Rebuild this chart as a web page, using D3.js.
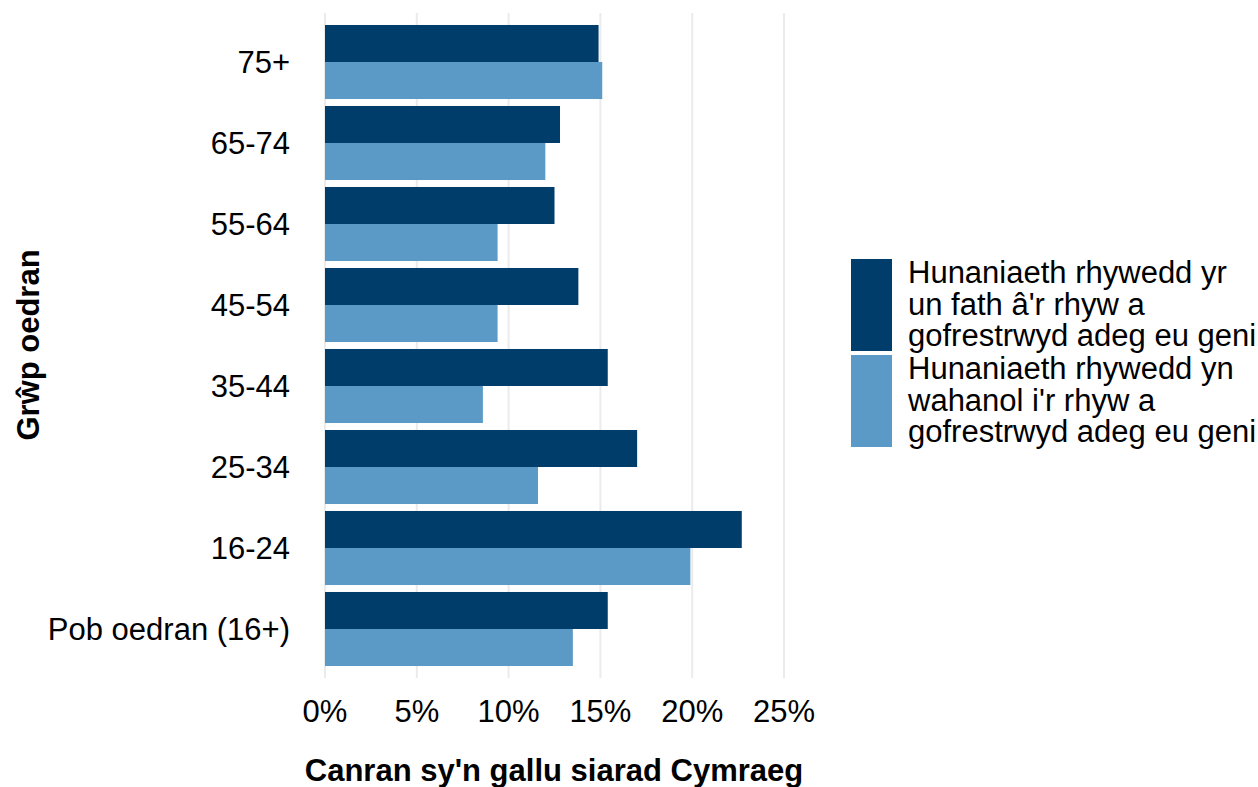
<!DOCTYPE html>
<html>
<head>
<meta charset="utf-8">
<style>
    body { margin: 0; background: white; }
    svg { font-family: 'Liberation Sans', Arial, sans-serif; }
</style>
</head>
<body>
<svg width="1258" height="787"></svg>
<script src="https://d3js.org/d3.v7.min.js"></script>
<script>
    // age groups, top to bottom
    let groups = ["75+", "65-74", "55-64", "45-54", "35-44", "25-34", "16-24", "Pob oedran (16+)"]
    let series = ["same", "diff"]
    let sameValues = [14.9, 12.8, 12.5, 13.8, 15.4, 17.0, 22.7, 15.4]
    let diffValues = [15.1, 12.0, 9.4, 9.4, 8.6, 11.6, 19.9, 13.5]
    let xTicks = [0, 5, 10, 15, 20, 25]
    let legendLines = [
        ["Hunaniaeth rhywedd yr", "un fath â'r rhyw a", "gofrestrwyd adeg eu geni"],
        ["Hunaniaeth rhywedd yn", "wahanol i'r rhyw a", "gofrestrwyd adeg eu geni"]
    ]
    let colors = ["#003d6b", "#5b9ac7"]

    let svg = d3.select("svg")
    let fs = "31px"

    let x = d3.scaleLinear()
        .domain([0, 25])
        .range([325, 784])

    let y = d3.scaleBand()
        .domain(groups)
        .range([21.5, 669.5])
        .paddingInner(0.086)
        .paddingOuter(0.043)

    let ySub = d3.scaleBand()
        .domain(series)
        .range([0, y.bandwidth()])

    // gridlines
    svg.selectAll(".grid")
        .data(xTicks)
        .join("line")
        .attr("x1", d => x(d))
        .attr("x2", d => x(d))
        .attr("y1", 13)
        .attr("y2", 678)
        .style("stroke", "#ebebeb")
        .style("stroke-width", 2)

    let rows = groups.map((g, i) => ({ g: g, vals: [sameValues[i], diffValues[i]] }))

    let grp = svg.selectAll(".grp")
        .data(rows)
        .join("g")
        .attr("transform", d => "translate(0," + y(d.g) + ")")

    grp.selectAll("rect")
        .data(d => d.vals.map((v, j) => ({ s: series[j], v: v, c: colors[j] })))
        .join("rect")
        .attr("x", x(0))
        .attr("y", d => ySub(d.s))
        .attr("width", d => x(d.v) - x(0))
        .attr("height", ySub.bandwidth())
        .style("fill", d => d.c)

    // y labels
    svg.selectAll(".ylab")
        .data(groups)
        .join("text")
        .attr("x", 290)
        .attr("y", d => y(d) + y.bandwidth() / 2)
        .attr("dy", "0.35em")
        .attr("text-anchor", "end")
        .style("font-size", fs)
        .text(d => d)

    // x labels
    svg.selectAll(".xlab")
        .data(xTicks)
        .join("text")
        .attr("x", d => x(d))
        .attr("y", 722)
        .attr("text-anchor", "middle")
        .style("font-size", fs)
        .text(d => d + "%")

    svg.append("text")
        .attr("x", 554)
        .attr("y", 781)
        .attr("text-anchor", "middle")
        .style("font-size", fs)
        .style("font-weight", "bold")
        .text("Canran sy'n gallu siarad Cymraeg")

    svg.append("text")
        .attr("transform", "translate(39,345) rotate(-90)")
        .attr("text-anchor", "middle")
        .style("font-size", fs)
        .style("font-weight", "bold")
        .text("Grŵp oedran")

    // legend
    let leg = svg.selectAll(".leg")
        .data(legendLines)
        .join("g")
        .attr("transform", (d, i) => "translate(851," + (259 + i * 96) + ")")

    leg.append("rect")
        .attr("width", 41)
        .attr("height", 92)
        .style("fill", (d, i) => colors[i])

    leg.each(function (d) {
        d3.select(this).selectAll("text")
            .data(d)
            .join("text")
            .attr("x", 57)
            .attr("y", (t, k) => 24 + k * 31.7)
            .style("font-size", fs)
            .text(t => t)
    })
</script>
</body>
</html>
